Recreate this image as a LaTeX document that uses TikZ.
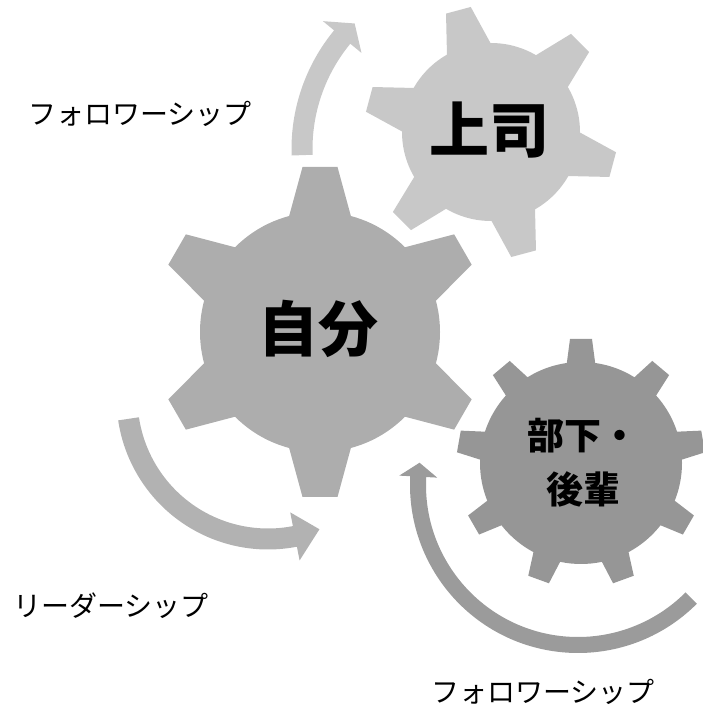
\documentclass[tikz,border=0pt]{standalone}
\usepackage{fontspec}
\usepackage{tikz}
\usetikzlibrary{calc}
\newfontfamily\jp{Noto Sans CJK JP}

\definecolor{SelfGray}{RGB}{173,173,173}
\definecolor{BossGray}{RGB}{200,200,200}
\definecolor{JuniorGray}{RGB}{150,150,150}
\definecolor{LeadGray}{RGB}{178,178,178}
\definecolor{FollowGray}{RGB}{155,155,155}

\begin{document}
\begin{tikzpicture}[x=1pt,y=1pt,
	GearText/.style={inner sep=0pt, font=\jp\bfseries},
	RoleText/.style={inner sep=0pt, font=\jp\fontsize{28}{32}\selectfont}]
			\useasboundingbox (0,0) rectangle (702,707);
			\pgfmathsetmacro{\SelfBody}{120}
			\pgfmathsetmacro{\SelfTip}{165}
			\pgfmathsetmacro{\BossBody}{89}
			\pgfmathsetmacro{\BossTip}{126}
			\pgfmathsetmacro{\JuniorBody}{101}
			\pgfmathsetmacro{\JuniorTip}{124}
			\coordinate(SelfPos) at (320,375);
			\coordinate(BossPos) at (491,575);
			\coordinate(JuniorPos) at (581,244);
			\coordinate(UpArc) at (478,558);
			\coordinate(LeadArc) at (268,309);
			\coordinate(DownArc) at (578,222);
			
			% gears
			\fill[SelfGray] (SelfPos) circle (\SelfBody);
			\foreach \a in {30,90,...,330}
				\fill[SelfGray, shift={(SelfPos)}, rotate=\a] (110,-32.5) -- (\SelfTip,-17.5) -- (\SelfTip,17.5) -- (110,32.5) -- cycle;
			
			\fill[BossGray] (BossPos) circle (\BossBody);
			\foreach \a in {-15,45,...,285}
				\fill[BossGray, shift={(BossPos)}, rotate=\a] (80,-24) -- (\BossTip,-12.8) -- (\BossTip,12.8) -- (80,24) -- cycle;
			
			\fill[JuniorGray] (JuniorPos) circle (\JuniorBody);
			\foreach \a in {10,50,...,330}
				\fill[JuniorGray, shift={(JuniorPos)}, rotate=\a] (90,-15.5) -- (\JuniorTip,-11) -- (\JuniorTip,11) -- (90,15.5) -- cycle;
			
			% arrows
			\fill[BossGray] ($(UpArc)+(182:186.5)$) arc[start angle=182, end angle=140.5, radius=186.5]
				-- ($(UpArc)+(140.5:201)$) -- ($(UpArc)+(134.5:176)$) -- ($(UpArc)+(140.5:151)$)
				-- ($(UpArc)+(140.5:165.5)$) arc[start angle=140.5, end angle=182, radius=165.5] -- cycle;
			\fill[LeadGray] ($(LeadArc)+(188.5:151.5)$) arc[start angle=188.5, end angle=281, radius=151.5]
				-- ($(LeadArc)+(281:165.5)$) -- ($(LeadArc)+(291.4:141)$) -- ($(LeadArc)+(281:116.5)$)
				-- ($(LeadArc)+(281:130.5)$) arc[start angle=281, end angle=188.5, radius=130.5] -- cycle;
			\fill[FollowGray] ($(DownArc)+(-45:168)$) arc[start angle=-45, end angle=-183, radius=168]
				-- ($(DownArc)+(-183:179)$) -- ($(DownArc)+(-188:160)$) -- ($(DownArc)+(-183:141)$)
				-- ($(DownArc)+(-183:152)$) arc[start angle=-183, end angle=-45, radius=152] -- cycle;
			
			% labels
			\node[GearText, font=\jp\bfseries\fontsize{60}{60}\selectfont] (self) at (318,378) {自分};
			\node[GearText, font=\jp\bfseries\fontsize{60}{60}\selectfont] (boss) at (489,577) {上司};
			\node[GearText, font=\jp\bfseries\fontsize{37}{54}\selectfont, align=center] (junior) at (583,244) {部下・\\後輩};
			\node[RoleText] (followup) at (140,593) {フォロワーシップ};
			\node[RoleText] (lead) at (111,101) {リーダーシップ};
			\node[RoleText] (followdown) at (543,15) {フォロワーシップ};
		\end{tikzpicture}
\end{document}
